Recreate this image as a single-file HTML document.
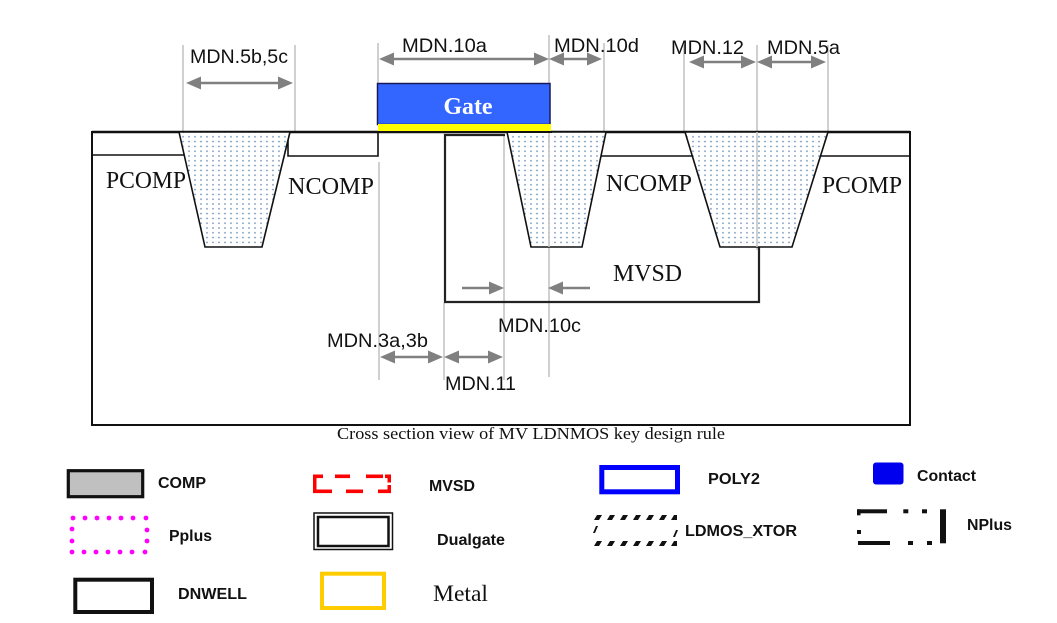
<!DOCTYPE html>
<html><head><meta charset="utf-8"><style>
html,body{margin:0;padding:0;background:#fff;}
svg{display:block;}
.s{font-family:"Liberation Sans",Arial,sans-serif;font-size:19.5px;fill:#111;}
.t{font-family:"Liberation Serif","Times New Roman",serif;font-size:24px;fill:#111;}
.b{font-family:"Liberation Sans",Arial,sans-serif;font-size:16px;font-weight:bold;fill:#111;}
</style></head><body>
<svg width="1057" height="623" viewBox="0 0 1057 623" xmlns="http://www.w3.org/2000/svg">
<defs>
<pattern id="dots" width="6" height="4.8" patternUnits="userSpaceOnUse">
<rect width="6" height="4.8" fill="#fff"/>
<circle cx="3" cy="2.4" r="0.8" fill="#5b85b5"/>
</pattern>
</defs>
<rect width="1057" height="623" fill="#fff"/>

<!-- gray guide lines -->
<g stroke="#c4c4c4" stroke-width="1.6" fill="none">
<line x1="183" y1="45" x2="183" y2="132"/>
<line x1="295" y1="45" x2="295" y2="132"/>
<line x1="378" y1="43" x2="378" y2="84"/>
<line x1="379" y1="162" x2="379" y2="380"/>
<line x1="549" y1="35" x2="549" y2="377"/>
<line x1="604" y1="43" x2="604" y2="132"/>
<line x1="684" y1="45" x2="684" y2="132"/>
<line x1="757" y1="45" x2="757" y2="250"/>
<line x1="828" y1="45" x2="828" y2="132"/>
<line x1="444" y1="303" x2="444" y2="380"/>
<line x1="504" y1="135" x2="504" y2="380"/>
</g>

<!-- outer box -->
<rect x="92" y="132" width="818" height="293" fill="none" stroke="#111" stroke-width="2"/>
<line x1="92" y1="132" x2="910" y2="132" stroke="#111" stroke-width="2.5"/>

<!-- COMP boxes -->
<g stroke="#111" stroke-width="1.6" fill="none">
<line x1="92" y1="155" x2="184" y2="155"/>
<polyline points="288,132 288,156 378,156 378,132"/>
<line x1="601" y1="156" x2="692" y2="156"/>
<line x1="820" y1="156" x2="910" y2="156"/>
</g>

<!-- MVSD box -->
<polyline points="505,135 445,135 445,302 759,302 759,247" fill="none" stroke="#222" stroke-width="2.2"/>

<!-- trenches -->
<g stroke="#111" stroke-width="1.6" fill="url(#dots)">
<polygon points="179,132 205,247 262,247 290,132"/>
<polygon points="507,132 531,247 582,247 606,132"/>
<polygon points="685,132 720,247 792,247 828,132"/>
</g>
<g stroke="#c4c4c4" stroke-width="1.6">
<line x1="549" y1="132" x2="549" y2="247"/>
<line x1="757" y1="132" x2="757" y2="247"/>
</g>

<!-- Gate -->
<rect x="377.5" y="83.5" width="172.5" height="41" fill="#3366ff" stroke="#1a1a5a" stroke-width="1.5"/>
<rect x="378" y="124" width="173" height="8" fill="#ffff00"/>
<line x1="378" y1="132" x2="552" y2="132" stroke="#111" stroke-width="2"/>
<text x="468" y="114" text-anchor="middle" font-family="Liberation Serif,Times New Roman,serif" font-size="24" font-weight="bold" fill="#fff" textLength="49" lengthAdjust="spacingAndGlyphs">Gate</text>

<!-- arrows -->
<g stroke="#808080" stroke-width="2.6">
<line x1="195" y1="83" x2="284" y2="83"/>
<line x1="388" y1="59" x2="540" y2="59"/>
<line x1="558" y1="59" x2="593" y2="59"/>
<line x1="698" y1="62" x2="747" y2="62"/>
<line x1="766" y1="62" x2="817" y2="62"/>
<line x1="462" y1="288" x2="495" y2="288"/>
<line x1="557" y1="288" x2="590" y2="288"/>
<line x1="389" y1="357" x2="434" y2="357"/>
<line x1="453" y1="357" x2="494" y2="357"/>
</g>
<g fill="#808080">
<polygon points="186,83 201,76.5 201,89.5"/><polygon points="293,83 278,76.5 278,89.5"/>
<polygon points="379,59 394,52.5 394,65.5"/><polygon points="549,59 534,52.5 534,65.5"/>
<polygon points="549,59 564,52.5 564,65.5"/><polygon points="602,59 587,52.5 587,65.5"/>
<polygon points="689,62 704,55.5 704,68.5"/><polygon points="756,62 741,55.5 741,68.5"/>
<polygon points="757,62 772,55.5 772,68.5"/><polygon points="826,62 811,55.5 811,68.5"/>
<polygon points="504,288 489,281.5 489,294.5"/>
<polygon points="548,288 563,281.5 563,294.5"/>
<polygon points="380,357 395,350.5 395,363.5"/><polygon points="443,357 428,350.5 428,363.5"/>
<polygon points="444,357 459,350.5 459,363.5"/><polygon points="503,357 488,350.5 488,363.5"/>
</g>

<!-- sans labels -->
<text class="s" x="190" y="63" textLength="98" lengthAdjust="spacingAndGlyphs">MDN.5b,5c</text>
<text class="s" x="402" y="52" textLength="85" lengthAdjust="spacingAndGlyphs">MDN.10a</text>
<text class="s" x="554" y="52" textLength="85" lengthAdjust="spacingAndGlyphs">MDN.10d</text>
<text class="s" x="671" y="54" textLength="73" lengthAdjust="spacingAndGlyphs">MDN.12</text>
<text class="s" x="767" y="54" textLength="73" lengthAdjust="spacingAndGlyphs">MDN.5a</text>
<text class="s" x="498" y="332" textLength="83" lengthAdjust="spacingAndGlyphs">MDN.10c</text>
<text class="s" x="327" y="347" textLength="101" lengthAdjust="spacingAndGlyphs">MDN.3a,3b</text>
<text class="s" x="445" y="390" textLength="71" lengthAdjust="spacingAndGlyphs">MDN.11</text>

<!-- serif labels -->
<text class="t" x="106" y="188" textLength="80" lengthAdjust="spacingAndGlyphs">PCOMP</text>
<text class="t" x="288" y="194" textLength="86" lengthAdjust="spacingAndGlyphs">NCOMP</text>
<text class="t" x="606" y="191" textLength="86" lengthAdjust="spacingAndGlyphs">NCOMP</text>
<text class="t" x="822" y="193" textLength="80" lengthAdjust="spacingAndGlyphs">PCOMP</text>
<text class="t" x="613" y="281" textLength="69" lengthAdjust="spacingAndGlyphs">MVSD</text>
<text x="337" y="439" font-family="Liberation Serif,Times New Roman,serif" font-size="16.5" fill="#111" textLength="388" lengthAdjust="spacingAndGlyphs">Cross section view of MV LDNMOS key design rule</text>

<!-- Legend -->
<rect x="68.3" y="470.7" width="74.4" height="26" fill="#c0c0c0" stroke="#111" stroke-width="3.2"/>
<text class="b" x="158" y="488" textLength="48" lengthAdjust="spacingAndGlyphs">COMP</text>

<g fill="#ff00ff">
<circle cx="73" cy="518" r="2.4"/><circle cx="85" cy="518" r="2.4"/><circle cx="97" cy="518" r="2.4"/><circle cx="109" cy="518" r="2.4"/><circle cx="121" cy="518" r="2.4"/><circle cx="133" cy="518" r="2.4"/><circle cx="146" cy="518" r="2.4"/>
<circle cx="72" cy="529" r="2.4"/><circle cx="72" cy="541" r="2.4"/><circle cx="147" cy="530" r="2.4"/><circle cx="147" cy="541" r="2.4"/>
<circle cx="72" cy="552" r="2.4"/><circle cx="84" cy="552" r="2.4"/><circle cx="96" cy="552" r="2.4"/><circle cx="108" cy="552" r="2.4"/><circle cx="120" cy="552" r="2.4"/><circle cx="132" cy="552" r="2.4"/><circle cx="145" cy="552" r="2.4"/>
</g>
<text class="b" x="169" y="541" textLength="43" lengthAdjust="spacingAndGlyphs">Pplus</text>

<rect x="75.3" y="579.7" width="76.7" height="32.3" fill="none" stroke="#111" stroke-width="4"/>
<text class="b" x="178" y="599" textLength="69" lengthAdjust="spacingAndGlyphs">DNWELL</text>

<g fill="#ff0000">
<rect x="313" y="474.5" width="10" height="3.6"/>
<rect x="335" y="474.5" width="15" height="3.6"/>
<rect x="366" y="474.5" width="17" height="3.6"/>
<rect x="385" y="474.5" width="6" height="3.6"/>
<rect x="387.5" y="474.5" width="3.5" height="8"/>
<rect x="313" y="477" width="3.5" height="16"/>
<rect x="313" y="489.5" width="19" height="3.6"/>
<rect x="346" y="489.5" width="17" height="3.6"/>
<rect x="378" y="489.5" width="13" height="3.6"/>
<rect x="387.5" y="485" width="3.5" height="8"/>
</g>
<text class="b" x="429" y="491" textLength="46" lengthAdjust="spacingAndGlyphs">MVSD</text>

<rect x="314" y="513" width="78.5" height="36.5" fill="none" stroke="#111" stroke-width="1.5"/>
<rect x="318" y="517" width="70.5" height="29" fill="none" stroke="#111" stroke-width="2.5"/>
<text class="b" x="437" y="545" textLength="68" lengthAdjust="spacingAndGlyphs">Dualgate</text>

<rect x="322" y="573.7" width="62" height="34.3" fill="none" stroke="#ffcc00" stroke-width="4"/>
<text x="433" y="601" font-family="Liberation Serif,Times New Roman,serif" font-size="23.5" fill="#111" textLength="55" lengthAdjust="spacingAndGlyphs">Metal</text>

<rect x="601.8" y="467.5" width="75.7" height="24.3" fill="none" stroke="#0000ff" stroke-width="5"/>
<text class="b" x="708" y="484" textLength="52" lengthAdjust="spacingAndGlyphs">POLY2</text>

<g fill="#111">
<polygon points="594,520 597,515 602,515 599,520"/>
<polygon points="607,520 610,515 615,515 612,520"/>
<polygon points="620,520 623,515 628,515 625,520"/>
<polygon points="633,520 636,515 641,515 638,520"/>
<polygon points="646,520 649,515 654,515 651,520"/>
<polygon points="659,520 662,515 667,515 664,520"/>
<polygon points="671,520 674,515 677,515 677,520"/>
<polygon points="594,546 597,541 602,541 599,546"/>
<polygon points="607,546 610,541 615,541 612,546"/>
<polygon points="620,546 623,541 628,541 625,546"/>
<polygon points="633,546 636,541 641,541 638,546"/>
<polygon points="646,546 649,541 654,541 651,546"/>
<polygon points="659,546 662,541 667,541 664,546"/>
<polygon points="671,546 674,541 677,541 677,546"/>
<polygon points="593,533 596,526 598,526 595,533"/>
<polygon points="673,537 676,530 678,530 675,537"/>
</g>
<text class="b" x="685" y="536" textLength="112" lengthAdjust="spacingAndGlyphs">LDMOS_XTOR</text>

<rect x="873" y="462.5" width="30.5" height="22" rx="3" fill="#0000ee"/>
<text class="b" x="917" y="481" textLength="59" lengthAdjust="spacingAndGlyphs">Contact</text>

<g fill="#111">
<rect x="857" y="509.3" width="30" height="4"/>
<rect x="857" y="509.3" width="3.5" height="6"/>
<rect x="903.3" y="509.3" width="5" height="4"/>
<rect x="922" y="509.3" width="5" height="4"/>
<rect x="940" y="509.3" width="6" height="34"/>
<rect x="857" y="530" width="4" height="4"/>
<rect x="858" y="541" width="32" height="4"/>
<rect x="908" y="541" width="5" height="4"/>
<rect x="927" y="541" width="5" height="4"/>
</g>
<text class="b" x="967" y="530" textLength="45" lengthAdjust="spacingAndGlyphs">NPlus</text>
</svg>
</body></html>
